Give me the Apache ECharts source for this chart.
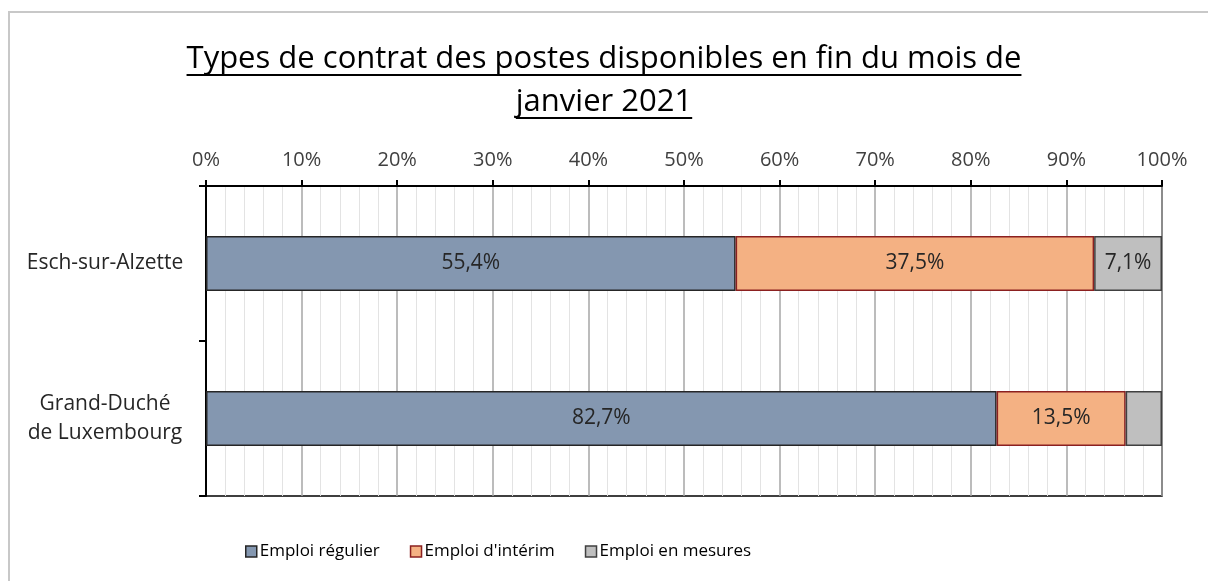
<!DOCTYPE html>
<html>
<head>
<meta charset="utf-8">
<script src="https://cdn.jsdelivr.net/npm/echarts@6/dist/echarts.min.js"></script>
<style>
  html, body { margin: 0; padding: 0; background: #fff; }
  #frame {
    position: absolute; left: 8px; top: 11px; width: 1200px; height: 570px;
    border-top: 2px solid #c8c8c8; border-left: 2px solid #c8c8c8;
  }
  #chart { width: 1208px; height: 581px; position: absolute; left: 0; top: 0; }
</style>
</head>
<body>
<div id="frame"></div>
<div id="chart"></div>
<script>
// Régions et parts (%) par type de contrat
const regions = ['Esch-sur-Alzette', 'Grand-Duché\nde Luxembourg'];
const emploiRegulier = [55.4, 82.7];
const emploiInterim = [37.5, 13.5];
const emploiMesures = [7.1, 3.8];
const xTicks = [0, 10, 20, 30, 40, 50, 60, 70, 80, 90, 100];
const titleLines = ['Types de contrat des postes disponibles en fin du mois de', 'janvier 2021'];

const FONT = '"Open Sans", sans-serif';
const TITLE_SIZE = 31;

const fmt = v => v.toFixed(1).replace('.', ',') + '%';

// série : nom, valeurs, couleur, bordure, étiquettes cachées
const seriesConfig = [
  { name: 'Emploi régulier', data: emploiRegulier, color: '#8497b0', border: '#262626', hide: [] },
  { name: "Emploi d'intérim", data: emploiInterim, color: '#f4b183', border: '#8b2020', hide: [] },
  { name: 'Emploi en mesures', data: emploiMesures, color: '#bfbfbf', border: '#404040', hide: [1] }
];

// soulignement du titre (zrender ne gère pas text-decoration)
const ctx = document.createElement('canvas').getContext('2d');
ctx.font = TITLE_SIZE + 'px "Open Sans"';
const underlineY = [75, 118];
const underlines = titleLines.map((t, i) => {
  const w = ctx.measureText(t).width;
  return {
    type: 'line',
    shape: { x1: 604 - w / 2, y1: underlineY[i], x2: 604 + w / 2, y2: underlineY[i] },
    style: { stroke: '#000', lineWidth: 2 }
  };
});

const chart = echarts.init(document.getElementById('chart'));

chart.setOption({
  animation: false,
  title: {
    text: titleLines.join('\n'),
    left: 'center',
    top: 33,
    textStyle: {
      fontFamily: FONT,
      fontSize: TITLE_SIZE,
      fontWeight: 'normal',
      color: '#000',
      lineHeight: 43
    }
  },
  graphic: underlines,
  legend: {
    top: 538,
    left: 240,
    itemWidth: 11,
    itemHeight: 11,
    itemGap: 30,
    icon: 'rect',
    textStyle: { fontFamily: FONT, fontSize: 17, color: '#000', padding: [0, 0, 0, -2] },
    data: seriesConfig.map(s => ({
      name: s.name,
      itemStyle: { borderColor: s.border, borderWidth: 1.5 }
    }))
  },
  grid: {
    left: 206,
    right: 46,
    top: 186,
    bottom: 85,
    show: true,
    borderColor: '#000',
    borderWidth: 1.5
  },
  xAxis: {
    type: 'value',
    position: 'top',
    min: xTicks[0],
    max: xTicks[xTicks.length - 1],
    interval: 10,
    axisLine: { show: true, lineStyle: { color: '#000', width: 2 } },
    axisTick: { show: true, length: 6, lineStyle: { color: '#000', width: 2 } },
    axisLabel: {
      formatter: v => v + '%',
      fontFamily: FONT,
      fontSize: 20,
      color: '#404040',
      margin: 16
    },
    splitLine: { show: true, lineStyle: { color: '#a6a6a6', width: 1.5 } },
    minorTick: { show: false, splitNumber: 5 },
    minorSplitLine: { show: true, lineStyle: { color: '#e3e3e3', width: 1 } }
  },
  yAxis: {
    type: 'category',
    inverse: true,
    data: regions,
    axisLine: { show: true, lineStyle: { color: '#000', width: 2 } },
    axisTick: { show: true, length: 7, lineStyle: { color: '#000', width: 2 } },
    axisLabel: {
      fontFamily: FONT,
      fontSize: 21,
      color: '#262626',
      margin: 101,
      lineHeight: 29,
      align: 'center'
    }
  },
  series: seriesConfig.map(s => ({
    name: s.name,
    type: 'bar',
    stack: 'total',
    barWidth: 55,
    itemStyle: { color: s.color, borderColor: s.border, borderWidth: 1.5 },
    label: {
      show: true,
      position: 'inside',
      fontFamily: FONT,
      fontSize: 21,
      color: '#262626',
      formatter: p => fmt(p.value)
    },
    data: s.data.map((v, i) => s.hide.includes(i) ? { value: v, label: { show: false } } : v)
  }))
});
</script>
</body>
</html>
